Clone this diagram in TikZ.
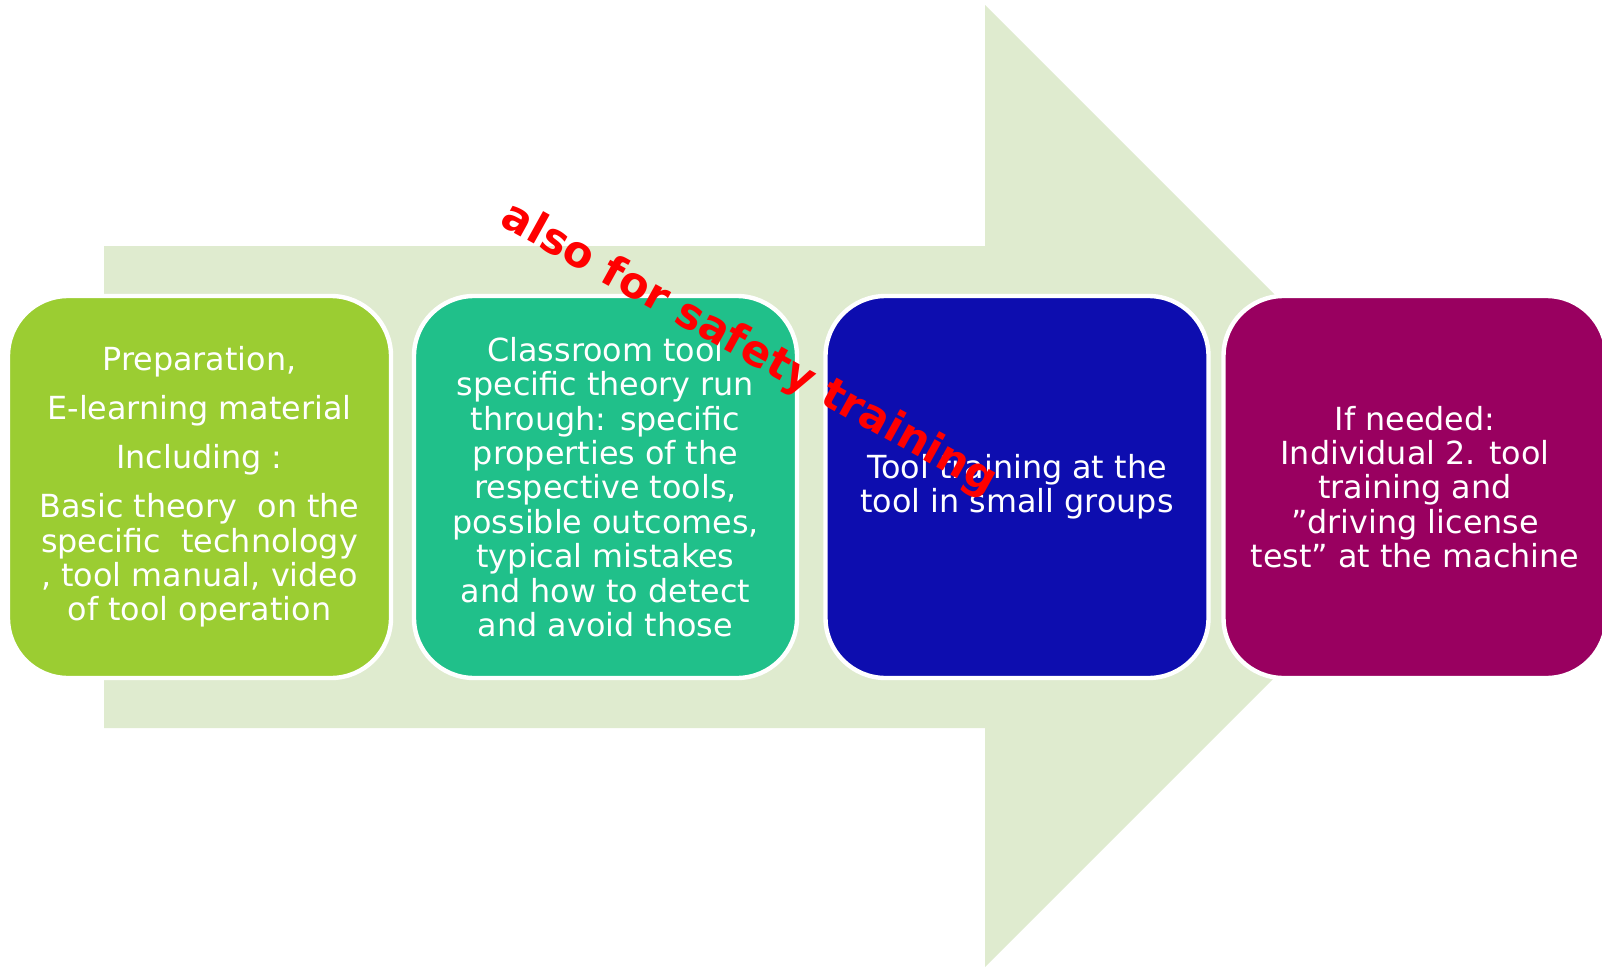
\documentclass[tikz,border=0pt]{standalone}
\usepackage{fontspec}
\setmainfont{DejaVu Sans}
\usetikzlibrary{positioning}
\definecolor{arrowbg}{RGB}{223,235,207}
\definecolor{prepgreen}{RGB}{155,205,50}
\definecolor{classteal}{RGB}{32,192,138}
\definecolor{groupblue}{RGB}{13,13,175}
\definecolor{testpurple}{RGB}{153,0,96}

\begin{document}
\begin{tikzpicture}[
            x=0.5pt, y=-0.5pt,
            stage/.style={draw=white, line width=2.2pt, rounded corners=30pt,
                minimum width=191.5pt, minimum height=191pt, inner sep=0pt,
                text=white, align=center, font=\fontsize{15.9}{17.2}\selectfont},
            note/.style={text=red, font=\bfseries\fontsize{21.6}{24}\selectfont, rotate=-29}]
            \useasboundingbox (0,0) rectangle (1602,969);
            \clip (0,0) rectangle (1602,969);
            % big arrow behind the stages
            \fill[arrowbg] (104,246) -- (985,246) -- (985,5) -- (1466,486)
                -- (985,967) -- (985,728) -- (104,728) -- cycle;
            \node[stage, fill=prepgreen] (prep) at (199.5,487) {Preparation,\\[7.3pt]
                E-learning material\\[7.3pt] Including :\\[7.3pt]
                Basic theory \ on the\\ specific \ technology\\
                , tool manual, video\\ of tool operation};
            \node[stage, fill=classteal] (class) at (605.5,487) {Classroom tool\\
                specific theory run\\ through: specific\\ properties of the\\
                respective tools,\\ possible outcomes,\\ typical mistakes\\
                and how to detect\\ and avoid those};
            \node[stage, fill=groupblue] (groups) at (1017,487) {Tool training at the\\
                tool in small groups};
            \node[stage, fill=testpurple] (license) at (1415,487) {If needed:\\
                Individual 2. tool\\ training and\\ ”driving license\\
                test” at the machine};
            \node[note] (safety) at (749,350) {also for safety training};
        \end{tikzpicture}
\end{document}
